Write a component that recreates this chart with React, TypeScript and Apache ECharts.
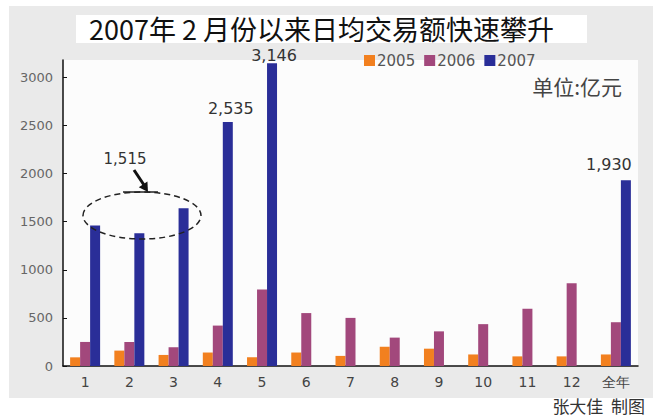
import React, { useEffect, useRef } from "react";
import * as echarts from "echarts";

const categories = ["1", "2", "3", "4", "5", "6", "7", "8", "9", "10", "11", "12", "全年"];
const values2005 = [90, 160, 115, 140, 90, 140, 105, 200, 180, 120, 100, 100, 120];
const values2006 = [250, 250, 195, 420, 795, 550, 500, 295, 360, 435, 595, 860, 455];
const values2007: (number | null)[] = [1460, 1380, 1640, 2535, 3146, null, null, null, null, null, null, null, 1930];
const yTicks = [0, 500, 1000, 1500, 2000, 2500, 3000];
const seriesNames = ["2005", "2006", "2007"];
const colors = ["#f2801f", "#a2487c", "#2a2e98"];
const labelled: Record<number, { distance: number; offset: [number, number] }> = {
  3: { distance: 6, offset: [3, 0] },
  4: { distance: 0, offset: [2, 0] },
  12: { distance: 8, offset: [-17, 0] },
};

const fmt = (v: number) => v.toLocaleString("en-US");

export default function App() {
  const ref = useRef<HTMLDivElement>(null);
  useEffect(() => {
    if (!ref.current) return;
    const chart = echarts.init(ref.current, null, { renderer: "svg" });
    const blueData = values2007.map((v, i) => {
      if (v == null || !labelled[i]) return v;
      return {
        value: v,
        label: {
          show: true,
          position: "top",
          distance: labelled[i].distance,
          offset: labelled[i].offset,
          formatter: fmt(v),
          fontSize: 16,
          lineHeight: 16,
          color: "#333",
          fontFamily: "DejaVu Sans",
        },
      };
    });
    const mkSeries = (name: string, data: any[], color: string) => ({
      name,
      type: "bar",
      data,
      barWidth: 10,
      barGap: "0%",
      itemStyle: { color },
    });
    chart.setOption({
      animation: false,
      backgroundColor: "#ffffff",
      textStyle: { fontFamily: "DejaVu Sans" },
      grid: { left: 63, right: 15, top: 60, bottom: 51, containLabel: false },
      legend: {
        data: seriesNames,
        left: 364,
        top: 53,
        padding: 0,
        itemWidth: 11,
        itemHeight: 11,
        itemGap: 9,
        icon: "rect",
        textStyle: { fontSize: 15, color: "#555", fontFamily: "DejaVu Sans", padding: [0, 0, 0, -3] },
      },
      xAxis: {
        type: "category",
        data: categories,
        axisLine: { lineStyle: { color: "#111", width: 1.5 } },
        axisTick: { inside: true, length: 3, lineStyle: { color: "#111" } },
        axisLabel: { fontSize: 14, color: "#444", margin: 9, fontFamily: "DejaVu Sans", interval: 0 },
      },
      yAxis: {
        type: "value",
        min: 0,
        max: 3180,
        interval: 500,
        splitLine: { show: false },
        axisLine: { show: true, lineStyle: { color: "#111", width: 1.5 } },
        axisTick: { show: true, inside: true, length: 4, lineStyle: { color: "#111" }, customValues: yTicks },
        axisLabel: {
          fontSize: 13,
          color: "#666",
          margin: 10,
          customValues: yTicks,
          formatter: (v: number) => String(v),
        },
      },
      graphic: [
        { type: "rect", z: -20, silent: true, shape: { x: 9, y: 6, width: 644, height: 392 }, style: { fill: "#eaeaea" } },
        { type: "rect", z: -19, silent: true, shape: { x: 63, y: 60, width: 575, height: 306 }, style: { fill: "#fcfcfc" } },
        { type: "rect", z: -19, silent: true, shape: { x: 76, y: 15, width: 511, height: 28 }, style: { fill: "#ffffff" } },
        {
          type: "text", z: 50, x: 89, y: 28,
          style: { text: "2007年 2 月份以来日均交易额快速攀升", fontSize: 27, lineHeight: 27, fill: "#111", fontFamily: "Noto Sans CJK SC", verticalAlign: "middle" },
        },
        {
          type: "text", z: 50, x: 622, y: 86,
          style: { text: "单位:亿元", fontSize: 21, lineHeight: 21, fill: "#444", fontFamily: "Noto Sans CJK SC", align: "right", verticalAlign: "middle" },
        },
        {
          type: "text", z: 50, x: 645, y: 405,
          style: { text: "张大佳  制图", fontSize: 17, lineHeight: 17, fill: "#333", fontFamily: "Noto Sans CJK SC", align: "right", verticalAlign: "middle" },
        },
        {
          type: "text", z: 50, x: 125, y: 159,
          style: { text: "1,515", fontSize: 15, fill: "#333", fontFamily: "DejaVu Sans", align: "center", verticalAlign: "middle" },
        },
        {
          type: "ellipse", z: 50, shape: { cx: 142, cy: 215.5, rx: 59, ry: 23.5 },
          style: { fill: "none", stroke: "#222", lineWidth: 1.5, lineDash: [6, 4] },
        },
        { type: "line", z: 50, shape: { x1: 123, y1: 192, x2: 158, y2: 192 }, style: { stroke: "#222", lineWidth: 1.5 } },
        { type: "line", z: 50, shape: { x1: 134, y1: 170, x2: 144, y2: 185 }, style: { stroke: "#111", lineWidth: 3 } },
        {
          type: "polygon", z: 50,
          shape: { points: [[148, 192], [138.8, 187.2], [147.4, 181.6]] },
          style: { fill: "#111" },
        },
      ],
      series: [
        mkSeries(seriesNames[0], values2005, colors[0]),
        mkSeries(seriesNames[1], values2006, colors[1]),
        mkSeries(seriesNames[2], blueData, colors[2]),
      ],
    });
    return () => chart.dispose();
  }, []);
  return (
    <div
      ref={ref}
      style={{ position: "absolute", left: 0, top: 0, width: 653, height: 417 }}
    />
  );
}
